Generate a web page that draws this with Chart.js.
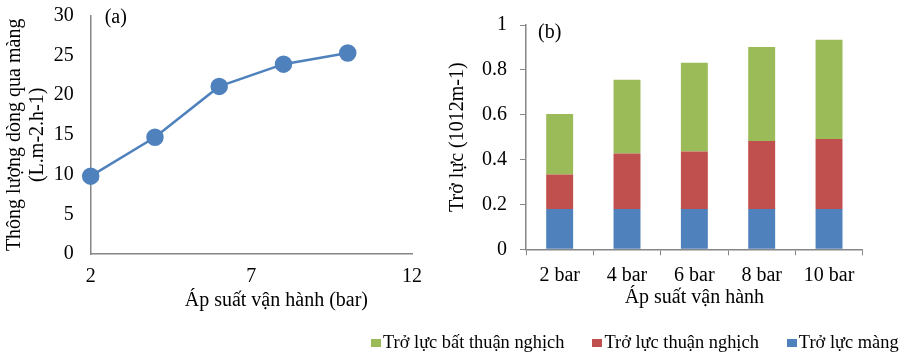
<!DOCTYPE html>
<html>
<head>
<meta charset="utf-8">
<script src="https://cdn.jsdelivr.net/npm/chart.js@4"></script>
<style>
    body { margin: 0; background: #fff; }
    #wrap { position: relative; width: 905px; height: 353px; overflow: hidden; }
    #fluxBox { position: absolute; left: 0; top: 0; width: 440px; height: 353px; }
    #resBox { position: absolute; left: 440px; top: 0; width: 465px; height: 353px; }
    #legend {
        position: absolute; left: 371px; top: 332px;
        display: flex; gap: 28px;
        font-family: 'Liberation Serif', serif; font-size: 18.4px; color: #000;
    }
    #legend span.item { display: flex; align-items: center; white-space: nowrap; }
    #legend span.sw { display: inline-block; width: 10px; height: 8px; margin-right: 2px; }
</style>
</head>
<body>
<div id="wrap">
    <div id="fluxBox"><canvas id="fluxChart"></canvas></div>
    <div id="resBox"><canvas id="resChart"></canvas></div>
    <div id="legend"></div>
</div>
<script>
// (a) flux vs pressure
const pressures = [2, 4, 6, 8, 10];
const flux = [9.8, 14.7, 21.1, 23.9, 25.3];
const fluxXTicks = [2, 7, 12];

// (b) resistance by pressure
const categories = ['2 bar', '4 bar', '6 bar', '8 bar', '10 bar'];
const membraneRes = [0.18, 0.18, 0.18, 0.18, 0.18];
const reversibleRes = [0.153, 0.247, 0.256, 0.303, 0.312];
const irreversibleRes = [0.27, 0.329, 0.396, 0.419, 0.442];
const seriesNames = ['Trở lực màng', 'Trở lực thuận nghịch', 'Trở lực bất thuận nghịch'];
const seriesColors = ['#4F81BD', '#C0504D', '#9BBB59'];

const FONT = 'Liberation Serif';
const AXIS = '#868686';

// small plugin to write the panel letter inside the plot
const panelLabel = {
    id: 'panelLabel',
    afterDraw(chart, args, opts) {
        const ctx = chart.ctx;
        ctx.save();
        ctx.font = '20px ' + FONT;
        ctx.fillStyle = '#000';
        ctx.textBaseline = 'middle';
        ctx.fillText(opts.text, chart.chartArea.left + opts.dx, chart.chartArea.top + opts.dy);
        ctx.restore();
    }
};

new Chart(document.getElementById('fluxChart'), {
    type: 'scatter',
    data: {
        datasets: [{
            data: pressures.map((p, i) => ({ x: p, y: flux[i] })),
            showLine: true,
            borderColor: '#4F81BD',
            backgroundColor: '#4F81BD',
            borderWidth: 2.5,
            pointRadius: 7.5,
            pointHoverRadius: 7.5,
            clip: false
        }]
    },
    plugins: [panelLabel],
    options: {
        responsive: true,
        maintainAspectRatio: false,
        animation: false,
        layout: { padding: { left: 0, right: 28, top: 15.7, bottom: 40 } },
        plugins: {
            legend: { display: false },
            tooltip: { enabled: false },
            panelLabel: { text: '(a)', dx: 14, dy: 2 }
        },
        scales: {
            x: {
                type: 'linear',
                min: 2,
                max: 12,
                afterBuildTicks: s => { s.ticks = fluxXTicks.map(v => ({ value: v })); },
                afterFit: s => { s.height = 59; },
                grid: { display: false, drawTicks: false },
                border: { display: true, color: AXIS, width: 1.5 },
                ticks: { padding: 11, color: '#000', font: { family: FONT, size: 20 } },
                title: {
                    display: true,
                    text: '\u2003\u2003\u2002Áp suất vận hành (bar)',
                    color: '#000',
                    padding: { top: 0, bottom: 0 },
                    font: { family: FONT, size: 20 }
                }
            },
            y: {
                min: 0,
                max: 30,
                ticks: { stepSize: 5, padding: 17, color: '#000', font: { family: FONT, size: 20 } },
                afterFit: s => {
                    s.width = 90.7;
                    // tick padding would otherwise push the plot top down
                    s.paddingTop = 10;
                    s.paddingBottom = 10;
                },
                grid: { display: false, drawTicks: false },
                border: { display: true, color: AXIS, width: 1.5 },
                title: {
                    display: true,
                    text: ['Thông lượng dòng qua màng', '(L.m-2.h-1)'],
                    color: '#000',
                    padding: { top: 3, bottom: 0 },
                    font: { family: FONT, size: 20, lineHeight: 1.15 }
                }
            }
        }
    }
});

new Chart(document.getElementById('resChart'), {
    type: 'bar',
    data: {
        labels: categories,
        datasets: [membraneRes, reversibleRes, irreversibleRes].map((vals, i) => ({
            label: seriesNames[i],
            data: vals,
            backgroundColor: seriesColors[i],
            borderWidth: 0,
            barPercentage: 0.4,
            categoryPercentage: 1
        }))
    },
    plugins: [panelLabel],
    options: {
        responsive: true,
        maintainAspectRatio: false,
        animation: false,
        layout: { padding: { left: 0, right: 42.3, top: 25, bottom: 43 } },
        plugins: {
            legend: { display: false },
            tooltip: { enabled: false },
            panelLabel: { text: '(b)', dx: 12, dy: 8 }
        },
        scales: {
            x: {
                stacked: true,
                afterFit: s => { s.height = 60.7; },
                grid: { drawOnChartArea: false, tickLength: 6, color: AXIS, offset: true },
                border: { display: true, color: AXIS, width: 1.5 },
                ticks: { padding: 8, color: '#000', font: { family: FONT, size: 20 } },
                title: {
                    display: true,
                    text: 'Áp suất vận hành',
                    color: '#000',
                    padding: { top: 0, bottom: 0 },
                    font: { family: FONT, size: 20 }
                }
            },
            y: {
                stacked: true,
                min: 0,
                max: 1,
                afterFit: s => {
                    s.width = 86;
                    s.paddingTop = 10;
                    s.paddingBottom = 10;
                },
                grid: { drawOnChartArea: false, tickLength: 6, color: AXIS },
                border: { display: true, color: AXIS, width: 1.5 },
                ticks: {
                    stepSize: 0.2,
                    padding: 13,
                    color: '#000',
                    font: { family: FONT, size: 20 },
                    callback: v => String(Math.round(v * 10) / 10)
                },
                title: {
                    display: true,
                    text: 'Trở lực (1012m-1)',
                    color: '#000',
                    padding: { top: 6, bottom: 0 },
                    font: { family: FONT, size: 20 }
                }
            }
        }
    }
});

// legend below the bar chart, listed top segment first
const legend = document.getElementById('legend');
legend.innerHTML = seriesNames.map((name, i) => `
    <span class="item"><span class="sw" style="background:${seriesColors[i]}"></span>${name}</span>
`).reverse().join('');
</script>
</body>
</html>
